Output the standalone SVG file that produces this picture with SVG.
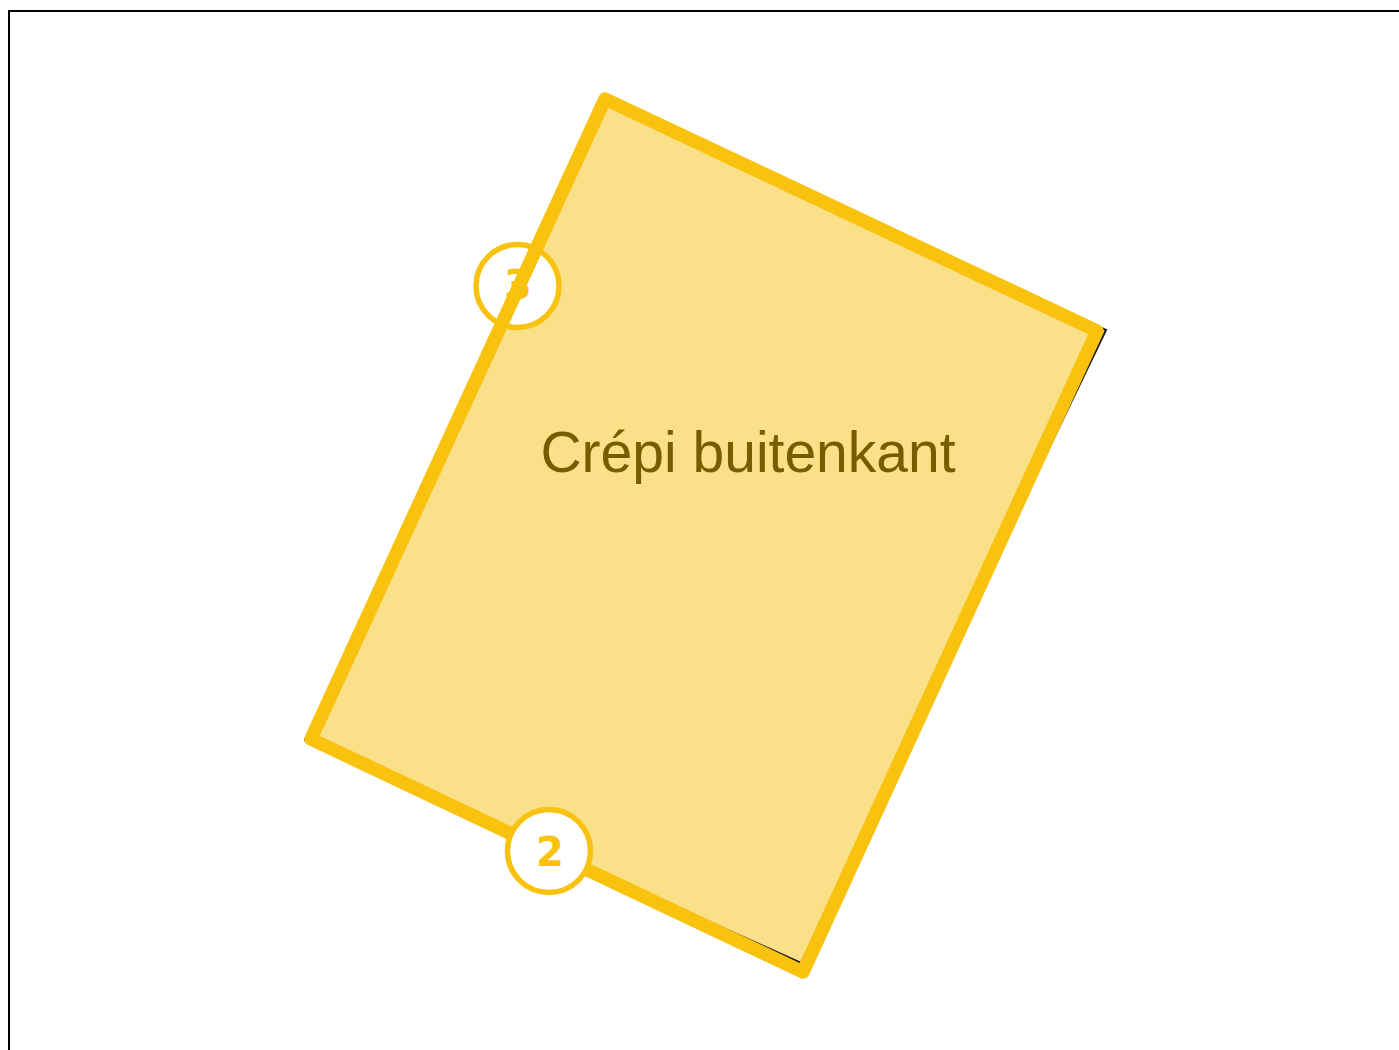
<svg xmlns="http://www.w3.org/2000/svg" width="1399" height="1050" viewBox="0 0 1399 1050">
  <style>
    .badge circle { fill: #ffffff; stroke: #F9C20F; stroke-width: 5.5; }
    .badge text { font-family: "DejaVu Sans", "Liberation Sans", sans-serif; font-weight: bold; font-size: 40px; fill: #F9C20F; text-anchor: middle; }
    .label { font-family: "Liberation Sans", Arial, sans-serif; font-size: 57px; fill: #7A5C00; text-anchor: middle; }
  </style>
  <rect x="0" y="0" width="1399" height="1050" fill="#ffffff"/>
  <path d="M9,1050 V11 H1399" fill="none" stroke="#000000" stroke-width="2"/>
  <g id="zone">
    <polygon points="605,99 1106,330 801,963 305,740" fill="#FAE089" stroke="#1a1a1a" stroke-width="2"/>
  </g>
  <g id="badge-3" class="badge">
    <circle cx="517.5" cy="286" r="41.5"/>
    <text x="518" y="299">3</text>
  </g>
  <g id="connectors">
    <polygon points="605,99 1097,331 803,972 311,739" fill="none" stroke="#F9C20F" stroke-width="13.5" stroke-linejoin="round"/>
  </g>
  <g id="label">
    <text class="label" x="748" y="472">Crépi buitenkant</text>
  </g>
  <g id="badge-2" class="badge">
    <circle cx="549" cy="851" r="41.5"/>
    <text x="550" y="866">2</text>
  </g>
</svg>
